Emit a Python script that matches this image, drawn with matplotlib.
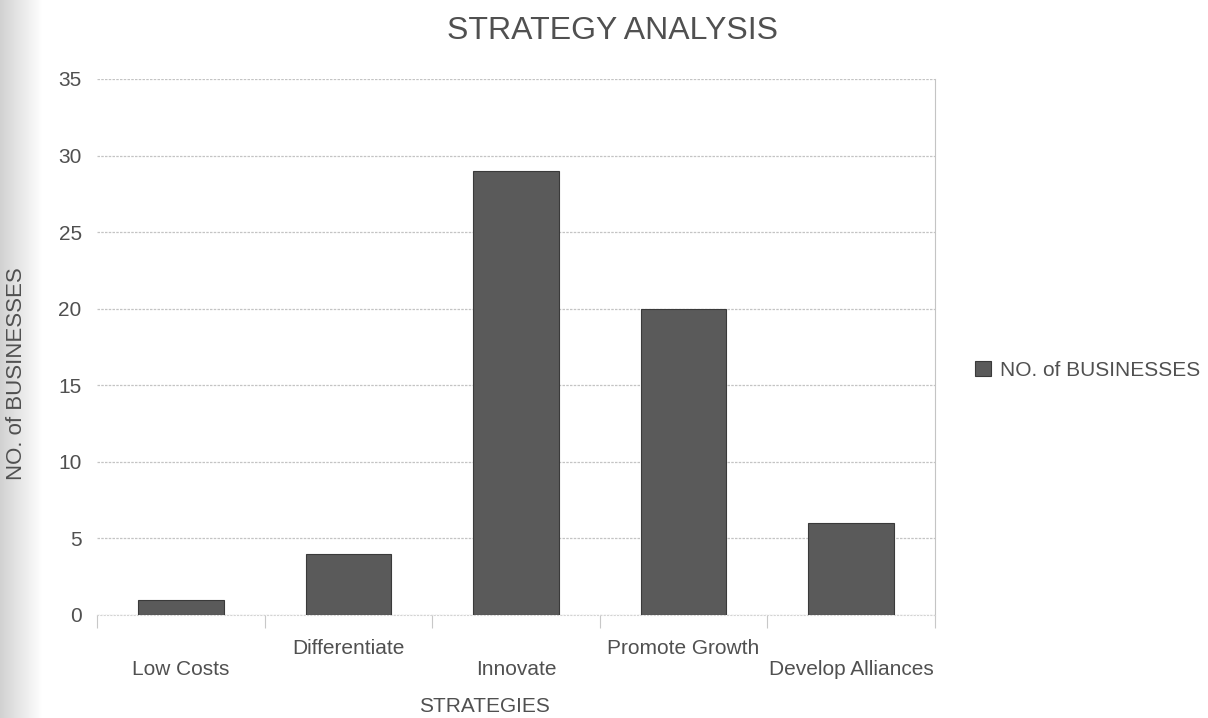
import numpy as np
import matplotlib
matplotlib.use("Agg")
import matplotlib.pyplot as plt

# strategies and how many businesses use each
strategies = ["Low Costs", "Differentiate", "Innovate", "Promote Growth", "Develop Alliances"]
businesses = [1, 4, 29, 20, 6]
y_ticks = [0, 5, 10, 15, 20, 25, 30, 35]

plt.rcParams['font.family'] = ['Liberation Sans', 'DejaVu Sans']
text_col = '#505050'

fig = plt.figure(figsize=(12.08, 7.18), dpi=100)

# faint shadow along the left edge of the page
shade = fig.add_axes([0, 0, 0.035, 1])
shade.imshow(np.linspace(0.82, 1.0, 64)[None, :], cmap='gray', vmin=0, vmax=1,
             aspect='auto', extent=[0, 1, 0, 1])
shade.axis('off')

ax = fig.add_axes([0.0803, 0.1435, 0.6937, 0.7465])

x = np.arange(len(strategies))
ax.bar(x, businesses, width=0.51, color='#5a5a5a', edgecolor='#3a3a3a',
       linewidth=0.8, label='NO. of BUSINESSES', zorder=3)

ax.set_xlim(-0.5, len(strategies) - 0.5)
ax.set_ylim(0, 35)
ax.set_yticks(y_ticks)
ax.yaxis.grid(True, color='#c4c4c4', linewidth=0.9, linestyle=(0, (2, 1)))
ax.set_axisbelow(True)

# staggered category labels
labels = [("\n" + s) if i % 2 == 0 else s for i, s in enumerate(strategies)]
ax.set_xticks(x)
ax.set_xticklabels(labels, fontsize=15, color=text_col, linespacing=1.15)
ax.tick_params(axis='x', length=0, pad=17)
ax.set_xticks(np.arange(len(strategies) + 1) - 0.5, minor=True)
ax.tick_params(axis='x', which='minor', length=9, color='#c8c8c8', width=0.8)
ax.tick_params(axis='y', length=0, pad=11, labelsize=15, labelcolor=text_col)

for side in ['left', 'top']:
    ax.spines[side].set_visible(False)
ax.spines['right'].set_color('#c4c4c4')
ax.spines['right'].set_linestyle((0, (1, 1)))
ax.spines['bottom'].set_color('#d4d4d4')
ax.spines['bottom'].set_linestyle((0, (1, 2)))

fig.text(0.507, 1 - 31 / 718, "STRATEGY ANALYSIS", ha='center', va='center',
         fontsize=23, color=text_col)
fig.text(0.014, 0.48, "NO. of BUSINESSES", rotation=90, ha='center', va='center',
         fontsize=16, color=text_col)
fig.text(484 / 1208, 1 - 706 / 718, "STRATEGIES", ha='center', va='center',
         fontsize=15, color=text_col)

ax.legend(loc='center left', bbox_to_anchor=(975 / 1208, 1 - 370 / 718),
          bbox_transform=fig.transFigure, frameon=False, fontsize=15,
          labelcolor=text_col, handlelength=0.75, handleheight=0.75,
          handletextpad=0.45, borderpad=0, borderaxespad=0)

fig.savefig("out.png", dpi=100, facecolor='white')
